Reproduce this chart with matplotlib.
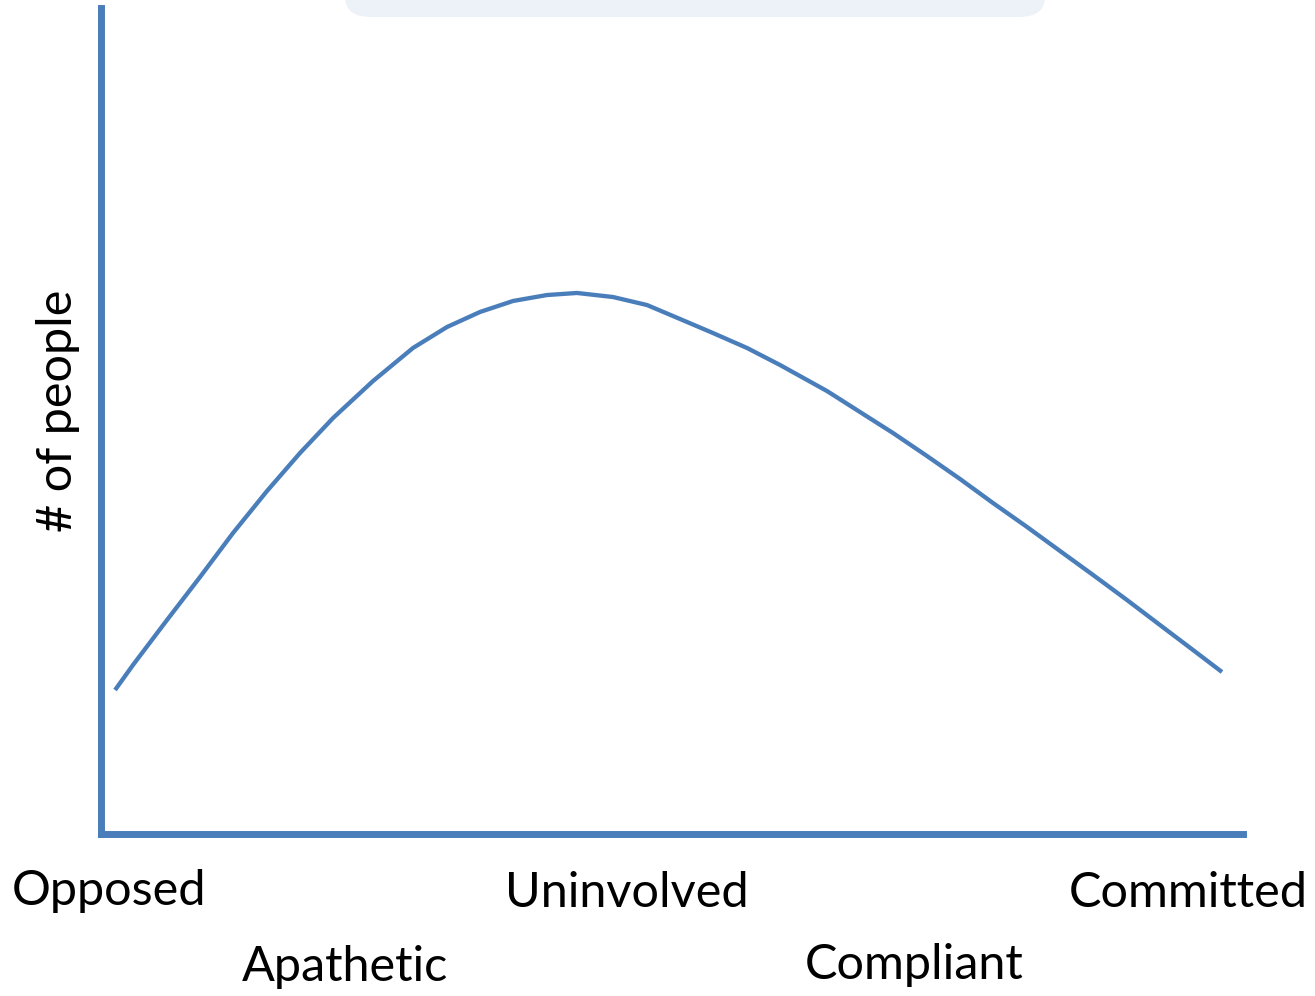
import matplotlib
matplotlib.use("Agg")
import matplotlib.pyplot as plt
from matplotlib.patches import FancyBboxPatch

plt.rcParams['font.family'] = ['Lato', 'DejaVu Sans']

# curve (x: position along the scale, y: # of people), 0-100 units
curve_x = [1.23, 2.80, 5.78, 8.67, 11.56, 14.54, 17.43, 20.32, 23.82, 27.32, 30.30,
           33.19, 36.08, 39.05, 41.68, 44.83, 47.81, 50.70, 53.59, 56.57, 59.46,
           63.57, 66.46, 69.35, 72.33, 75.22, 78.11, 81.09, 83.98, 86.87, 89.84,
           92.73, 95.62, 98.16]
curve_y = [17.43, 20.46, 25.91, 31.11, 36.44, 41.53, 46.13, 50.36, 54.84, 58.84, 61.38,
           63.20, 64.53, 65.25, 65.50, 65.01, 64.04, 62.35, 60.65, 58.84, 56.78,
           53.63, 51.09, 48.55, 45.76, 42.98, 40.07, 37.17, 34.26, 31.36, 28.33,
           25.30, 22.28, 19.61]

# labels under the axis
categories = ['Opposed', 'Apathetic', 'Uninvolved', 'Compliant', 'Committed']
ylabel = '# of people'

blue = '#4a7ebb'

W, H = 1315, 996
fig = plt.figure(figsize=(W / 100, H / 100), dpi=100)

# faint rounded box at the top edge (title placeholder)
box = FancyBboxPatch((345 / W, 1 - 17 / H), 700 / W, 40 / H,
                     boxstyle="round,pad=0,rounding_size=0.02",
                     transform=fig.transFigure, facecolor='#edf1f8',
                     edgecolor='none', zorder=0)
fig.patches.append(box)

ax = fig.add_axes([101 / W, (H - 834) / H, (1243 - 101) / W, (834 - 8) / H])
ax.plot(curve_x, curve_y, color=blue, linewidth=3.1, solid_capstyle='butt',
        solid_joinstyle='round')
ax.set_xlim(0, 100)
ax.set_ylim(0, 100)
ax.set_xticks([])
ax.set_yticks([])
for side in ['top', 'right']:
    ax.spines[side].set_visible(False)
for side in ['left', 'bottom']:
    ax.spines[side].set_linewidth(5)
    ax.spines[side].set_color(blue)
    ax.spines[side].set_capstyle('projecting')

# label positions in pixels (center x, center y)
label_pos = [(109, 891), (345, 967), (627, 893), (914, 965), (1188, 893)]
for name, (px, py) in zip(categories, label_pos):
    fig.text(px / W, 1 - py / H, name, ha='center', va='center', fontsize=35)

fig.text(58 / W, 1 - 411 / H, ylabel, ha='center', va='center',
         rotation=90, fontsize=35)

fig.savefig('out.png', dpi=100)
